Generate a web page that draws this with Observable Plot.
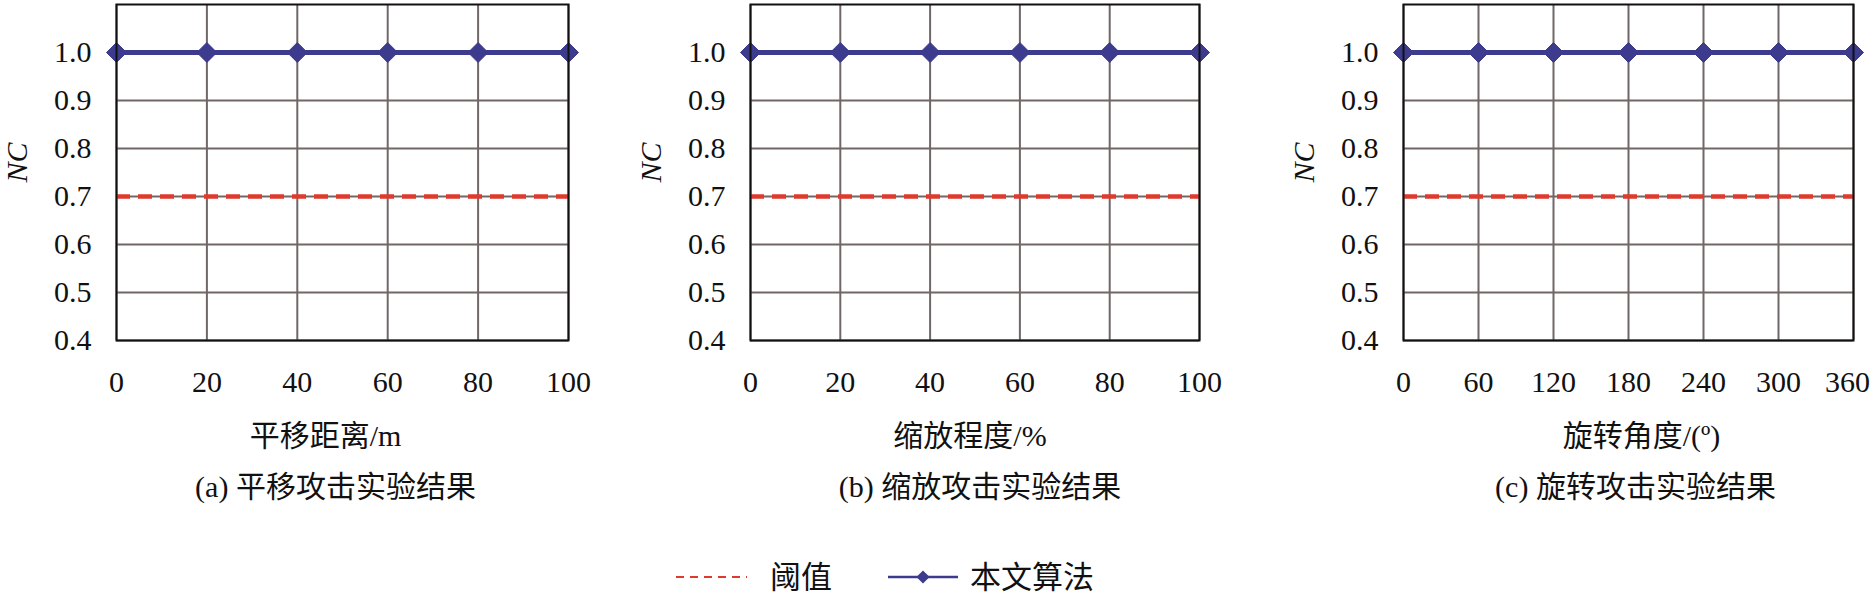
<!DOCTYPE html>
<html><head><meta charset="utf-8">
<script src="https://cdn.jsdelivr.net/npm/d3@7"></script>
<script src="https://cdn.jsdelivr.net/npm/@observablehq/plot@0.6"></script>
<style>
body{margin:0;background:#fff;}
#wrap{position:relative;width:1874px;height:595px;overflow:hidden;font-family:"Liberation Serif","Times New Roman","Noto Sans CJK SC",serif;color:#111;}
.panel{position:absolute;top:0;}
#legend{position:absolute;top:557px;left:0;}
</style></head><body><div id="wrap"></div>
<script>
// ---- data ----
const yTicks = [0.4, 0.5, 0.6, 0.7, 0.8, 0.9, 1.0];
const threshold = 0.7;
const xTranslate = [0, 20, 40, 60, 80, 100];
const ncTranslate = [1, 1, 1, 1, 1, 1];
const xScaling = [0, 20, 40, 60, 80, 100];
const ncScaling = [1, 1, 1, 1, 1, 1];
const xRotate = [0, 60, 120, 180, 240, 300, 360];
const ncRotate = [1, 1, 1, 1, 1, 1, 1];
const xLabels = ["平移距离/m", "缩放程度/%", "旋转角度/(º)"];
const captions = ["(a) 平移攻击实验结果", "(b) 缩放攻击实验结果", "(c) 旋转攻击实验结果"];
const seriesNames = ["阈值", "本文算法"];

const FONT = '"Liberation Serif","Times New Roman","Noto Sans CJK SC",serif';
const RED = "#df3a2e", BLUE = "#3d3b8e", GRID = "#716767";

const panels = [
  {left: 0,    inner: 452, mR: 30, xs: xTranslate, ys: ncTranslate, i: 0, ldx: -17, cdx: -7, lastDx: 0},
  {left: 634,  inner: 449, mR: 30, xs: xScaling,   ys: ncScaling,   i: 1, ldx: -5,  cdx: 5,  lastDx: 0},
  {left: 1287, inner: 450, mR: 21, xs: xRotate,    ys: ncRotate,    i: 2, ldx: 13,  cdx: 7,  lastDx: -6}
];

const wrap = document.getElementById("wrap");

for (const p of panels) {
  const data = p.xs.map((x, k) => ({x, nc: p.ys[k]}));
  const mL = 116;
  const chart = Plot.plot({
    width: mL + p.inner + p.mR,
    height: 530,
    marginLeft: mL, marginRight: p.mR, marginTop: 4, marginBottom: 190,
    style: {fontFamily: FONT, fontSize: "30px", background: "transparent", color: "#111", overflow: "visible"},
    x: {domain: [p.xs[0], p.xs[p.xs.length - 1]], ticks: p.xs},
    y: {domain: [0.4, 1.1], ticks: yTicks},
    marks: [
      Plot.gridX(p.xs, {stroke: GRID, strokeOpacity: 1, strokeWidth: 2}),
      Plot.gridY(yTicks, {stroke: GRID, strokeOpacity: 1, strokeWidth: 2}),
      Plot.ruleY([threshold], {stroke: RED, strokeWidth: 4.5, strokeDasharray: "14,8"}),
      Plot.line(data, {x: "x", y: "nc", stroke: BLUE, strokeWidth: 5}),
      Plot.dot(data, {x: "x", y: "nc", symbol: "diamond2", r: 9, fill: BLUE, stroke: BLUE, strokeWidth: 1}),
      Plot.frame({stroke: "#111", strokeWidth: 2}),
      Plot.axisX(p.xs.slice(0, -1), {tickSize: 0, tickPadding: 30, label: null, fontSize: 30}),
      Plot.axisX(p.xs.slice(-1), {tickSize: 0, tickPadding: 30, label: null, fontSize: 30, dx: p.lastDx}),
      Plot.axisY(yTicks, {tickSize: 0, tickPadding: 25, tickFormat: d => d.toFixed(1), label: null, fontSize: 30}),
      Plot.text([xLabels[p.i]], {frameAnchor: "bottom", dy: 105, dx: p.ldx, text: d => d, fontSize: 30}),
      Plot.text([captions[p.i]], {frameAnchor: "bottom", dy: 156, dx: p.cdx, text: d => d, fontSize: 30}),
      Plot.text(["NC"], {frameAnchor: "left", dx: -99, dy: 10, rotate: -90, fontStyle: "italic", text: d => d, fontSize: 30})
    ]
  });
  chart.classList.add("panel");
  chart.style.left = p.left + "px";
  wrap.appendChild(chart);
}

// ---- legend ----
const lg = d3.select(wrap).append("svg").attr("id", "legend")
  .attr("width", 1874).attr("height", 40)
  .style("font-family", FONT).style("font-size", "31px");
lg.append("line").attr("x1", 676).attr("x2", 747).attr("y1", 20).attr("y2", 20)
  .attr("stroke", RED).attr("stroke-width", 2.2).attr("stroke-dasharray", "8,6");
lg.append("text").attr("x", 770).attr("y", 20).attr("dy", "0.35em").attr("fill", "#111").text(seriesNames[0]);
lg.append("line").attr("x1", 888).attr("x2", 958).attr("y1", 20).attr("y2", 20)
  .attr("stroke", BLUE).attr("stroke-width", 2.5);
lg.append("path").attr("d", d3.symbol(d3.symbolDiamond2, 110)()).attr("transform", "translate(923,20)").attr("fill", BLUE);
lg.append("text").attr("x", 970).attr("y", 20).attr("dy", "0.35em").attr("fill", "#111").text(seriesNames[1]);
</script></body></html>
